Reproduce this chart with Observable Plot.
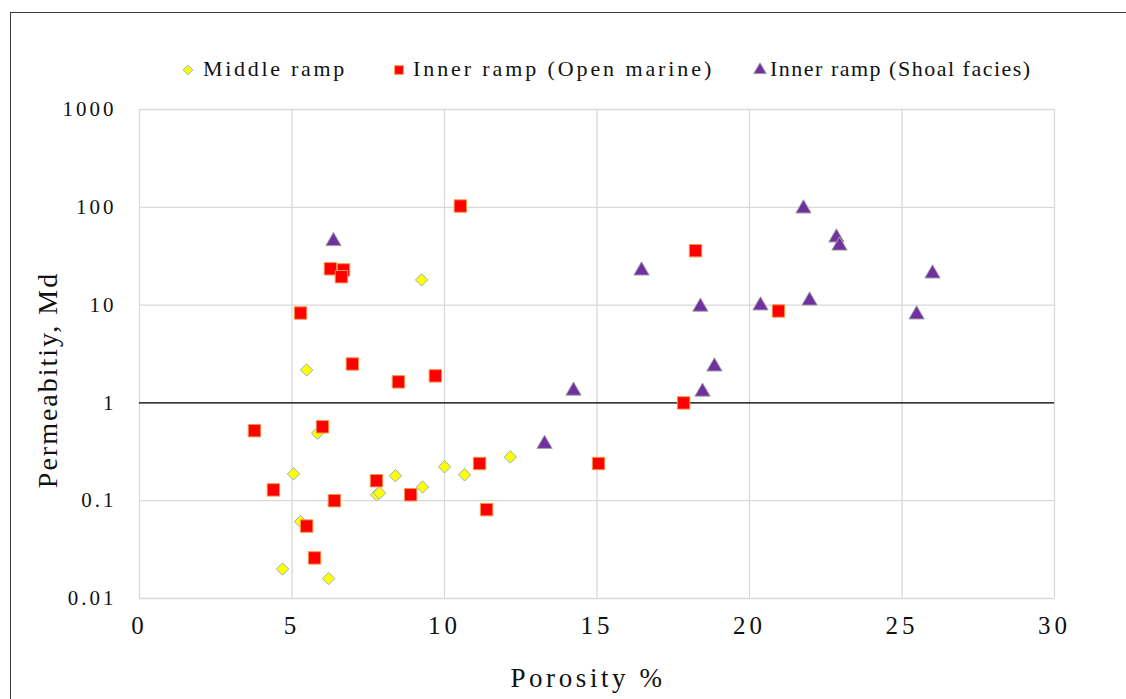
<!DOCTYPE html>
<html>
<head>
<meta charset="utf-8">
<script src="https://cdn.jsdelivr.net/npm/d3@7"></script>
<script src="https://cdn.jsdelivr.net/npm/@observablehq/plot@0.6"></script>
<style>
  html, body { margin: 0; padding: 0; background: #fff; }
  body { width: 1126px; height: 699px; position: relative; overflow: hidden; font-family: "Liberation Serif", "Times New Roman", serif; }
  #frame { position: absolute; left: 10px; top: 12px; width: 1300px; height: 900px; border-left: 1.5px solid #3a3a3a; border-top: 1.5px solid #3a3a3a; pointer-events: none; }
  #legend { position: relative; height: 90px; }
  .sym { position: absolute; top: 62px; }
  .label { position: absolute; top: 56px; font-size: 22px; color: #111; white-space: nowrap; line-height: 26px; }
  #chart { position: relative; }
</style>
</head>
<body>
<div id="frame"></div>
<div id="legend"></div>
<div id="chart"></div>
<script>
// ---- Data ----
const seriesNames = ["Middle ramp", "Inner ramp (Open marine)", "Inner ramp (Shoal facies)"];

const middlePorosity = [4.69, 5.05, 5.28, 5.48, 5.84, 6.20, 7.77, 7.87, 8.39, 9.28, 9.25, 10.0, 10.66, 12.16];
const middlePerm     = [0.020, 0.188, 0.061, 2.17, 0.49, 0.016, 0.115, 0.12, 0.18, 0.138, 18.1, 0.222, 0.184, 0.28];

const openPorosity = [10.52, 6.26, 6.69, 6.62, 5.28, 6.98, 8.49, 9.70, 3.77, 6.00, 4.39, 6.39, 7.77, 8.89, 11.15, 11.38, 5.48, 5.74, 15.05, 18.23, 20.95, 17.84];
const openPerm     = [103, 23.5, 22.9, 19.5, 8.3, 2.5, 1.64, 1.89, 0.52, 0.57, 0.129, 0.10, 0.16, 0.115, 0.24, 0.081, 0.055, 0.026, 0.24, 36, 8.7, 1.0];

const shoalPorosity = [6.36, 13.28, 14.23, 16.46, 18.39, 18.46, 18.85, 20.36, 21.77, 21.97, 22.85, 22.95, 25.48, 26.0];
const shoalPerm     = [45, 0.38, 1.33, 22.5, 9.6, 1.3, 2.35, 9.9, 97, 11.1, 49, 40.5, 8.0, 21];

const xTicks = [0, 5, 10, 15, 20, 25, 30];
const yTicks = [0.01, 0.1, 1, 10, 100, 1000];
const yTickLabels = ["0.01", "0.1", "1", "10", "100", "1000"];
const xLabel = "Porosity %";
const yLabel = "Permeabitiy, Md";

const zip = (xs, ys) => xs.map((x, i) => ({x, y: ys[i]}));
const middle = zip(middlePorosity, middlePerm);
const openMarine = zip(openPorosity, openPerm);
const shoal = zip(shoalPorosity, shoalPerm);

const styles = [
  {symbol: "diamond2", fill: "#ffff00", stroke: "#8db3d9", r: 5.6},
  {symbol: "square", fill: "#ff0000", stroke: "#f79646", r: 7},
  {symbol: "triangle", fill: "#7030a0", stroke: "#a6a6a6", r: 5.7}
];
const d3Symbols = {diamond2: d3.symbolDiamond2, square: d3.symbolSquare, triangle: d3.symbolTriangle};

// ---- Legend ----
const legend = document.getElementById("legend");
const legendSymX = [188, 399, 760];
const legendTextX = [203, 413, 770];
const legendSpacing = [2.7, 2.9, 1.5];
const legendSymSize = [60, 75, 70];
seriesNames.forEach((name, i) => {
  const s = document.createElementNS("http://www.w3.org/2000/svg", "svg");
  s.setAttribute("class", "sym");
  s.setAttribute("width", 16); s.setAttribute("height", 16);
  s.setAttribute("viewBox", "-8 -8 16 16");
  s.style.left = (legendSymX[i] - 8) + "px";
  const p = document.createElementNS("http://www.w3.org/2000/svg", "path");
  p.setAttribute("d", d3.symbol(d3Symbols[styles[i].symbol], legendSymSize[i])());
  p.setAttribute("fill", styles[i].fill);
  p.setAttribute("stroke", styles[i].stroke);
  s.appendChild(p);
  legend.appendChild(s);
  const t = document.createElement("div");
  t.className = "label";
  t.style.left = legendTextX[i] + "px";
  t.style.letterSpacing = legendSpacing[i] + "px";
  t.textContent = name;
  legend.appendChild(t);
});

// ---- Chart ----
const chart = Plot.plot({
  width: 1126,
  height: 609,
  marginLeft: 139,
  marginRight: 72,
  marginTop: 19,
  marginBottom: 101,
  style: {fontFamily: "'Liberation Serif', 'Times New Roman', serif", fontSize: "21px", color: "#111", background: "transparent", overflow: "visible"},
  x: {domain: [0, 30], label: null},
  y: {type: "log", domain: [0.01, 1000], label: null},
  marks: [
    Plot.ruleY(yTicks, {stroke: "#d9d9d9", strokeWidth: 1.3}),
    Plot.ruleX(xTicks, {stroke: "#d9d9d9", strokeWidth: 1.3}),
    Plot.ruleY([1], {stroke: "#000", strokeWidth: 1.2}),
    Plot.dot(middle, {x: "x", y: "y", symbol: styles[0].symbol, r: styles[0].r, fill: styles[0].fill, stroke: styles[0].stroke, strokeWidth: 1}),
    Plot.dot(openMarine, {x: "x", y: "y", symbol: styles[1].symbol, r: styles[1].r, fill: styles[1].fill, stroke: styles[1].stroke, strokeWidth: 1}),
    Plot.dot(shoal, {x: "x", y: "y", symbol: styles[2].symbol, r: styles[2].r, fill: styles[2].fill, stroke: styles[2].stroke, strokeWidth: 1}),
    Plot.axisX({ticks: xTicks, tickFormat: d => String(d), tickSize: 0, tickPadding: 18, fontSize: 25, label: null}),
    Plot.axisY({ticks: yTicks, tickFormat: d => yTickLabels[yTicks.indexOf(d)], tickSize: 0, tickPadding: 23, label: null}),
    Plot.text([xLabel], {frameAnchor: "bottom", textAnchor: "middle", lineAnchor: "middle", dx: -9, dy: 80, fontSize: 27, text: d => d, fill: "#111"}),
    Plot.text([yLabel], {frameAnchor: "left", textAnchor: "middle", lineAnchor: "middle", dx: -91, dy: 26, rotate: -90, fontSize: 28, text: d => d, fill: "#111"})
  ]
});
document.getElementById("chart").appendChild(chart);

// widen glyph spacing like the reference
const root = d3.select(chart);
root.selectAll("g[aria-label='x-axis tick label'] text").attr("letter-spacing", "4px");
root.selectAll("g[aria-label='y-axis tick label'] text").attr("letter-spacing", "3px");
root.selectAll("g[aria-label='text'] text").each(function() {
  const t = this.textContent;
  d3.select(this).attr("letter-spacing", t === xLabel ? "3.6px" : "2px");
});
</script>
</body>
</html>
